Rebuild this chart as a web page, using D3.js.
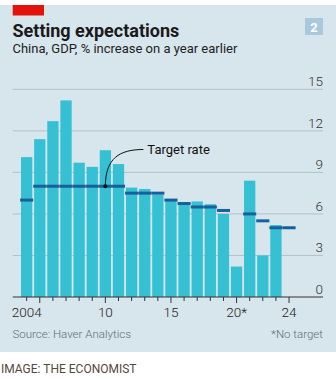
<!DOCTYPE html>
<html><head><meta charset="utf-8">
<script src="https://cdn.jsdelivr.net/npm/d3@7"></script>
<style>html,body{margin:0;padding:0;background:#fff;}svg{display:block;}</style>
</head><body>
<script>
const years = [2004,2005,2006,2007,2008,2009,2010,2011,2012,2013,2014,2015,2016,2017,2018,2019,2020,2021,2022,2023];
const gdp = [10.1,11.4,12.7,14.2,9.7,9.4,10.6,9.6,7.9,7.8,7.4,7.0,6.8,6.9,6.7,6.0,2.2,8.4,3.0,5.2];
const targetYears = [2004,2005,2006,2007,2008,2009,2010,2011,2012,2013,2014,2015,2016,2017,2018,2019,2021,2022,2023,2024];
const targets = [7,8,8,8,8,8,8,8,7.5,7.5,7.5,7,6.75,6.5,6.5,6.25,6,5.5,5,5];
const allYears = d3.range(2004, 2025);
const yTicks = [0,3,6,9,12,15];
const xLabels = {2004:"2004",2010:"10",2015:"15",2020:"20*",2024:"24"};
const tallTicks = [2005,2010,2015,2020,2024];

const W=336,H=380;
const svg=d3.select("body").append("svg").attr("width",W).attr("height",H);
const font="Roboto, 'Open Sans', sans-serif";
svg.append("rect").attr("x",0).attr("y",5).attr("width",W).attr("height",347).attr("fill","#d7e5ed");
svg.append("rect").attr("x",12.7).attr("y",5).attr("width",31.3).attr("height",10.5).attr("fill","#e3120b");

svg.append("text").attr("x",12.5).attr("y",36.5).text("Setting expectations")
  .attr("font-family",font).attr("font-weight",700).attr("font-size",18).attr("fill","#1a1a1a");
svg.append("text").attr("x",12.5).attr("y",53).text("China, GDP, % increase on a year earlier")
  .attr("font-family",font).attr("font-size",13).attr("fill","#222");
svg.append("rect").attr("x",305).attr("y",18).attr("width",18).attr("height",17).attr("fill","#a9c8db");
svg.append("text").attr("x",314).attr("y",31.5).attr("text-anchor","middle").text("2")
  .attr("font-family",font).attr("font-weight",700).attr("font-size",13).attr("fill","#fff");

const x=d3.scaleBand().domain(allYears).range([20.1,295.6]).paddingInner(0.14).paddingOuter(0.07);
const y=d3.scaleLinear().domain([0,15]).range([297,89.3]);
const gap = x.step()-x.bandwidth();

const g=svg.append("g");
g.selectAll("line.grid").data(yTicks.filter(d=>d>0)).join("line")
  .attr("x1",12.7).attr("x2",323).attr("y1",d=>y(d)).attr("y2",d=>y(d))
  .attr("stroke","#b3c1c9").attr("stroke-width",1);
g.selectAll("text.yl").data(yTicks).join("text")
  .attr("x",323).attr("y",d=>y(d)-3).attr("text-anchor","end").text(d=>d)
  .attr("font-family",font).attr("font-weight",300).attr("font-size",13.5).attr("fill","#333");

g.selectAll("rect.bar").data(years.map((yr,i)=>({yr,v:gdp[i]}))).join("rect")
  .attr("x",d=>x(d.yr)).attr("width",x.bandwidth())
  .attr("y",d=>y(d.v)).attr("height",d=>y(0)-y(d.v)).attr("fill","#35c0d3");

g.selectAll("line.tgt").data(targetYears.map((yr,i)=>({yr,v:targets[i]}))).join("line")
  .attr("x1",d=>x(d.yr)-gap/2).attr("x2",d=>x(d.yr)+x.bandwidth()+gap/2)
  .attr("y1",d=>y(d.v)).attr("y2",d=>y(d.v))
  .attr("stroke","#17609a").attr("stroke-width",3);

const axis=d3.axisBottom(x).tickValues(allYears).tickFormat("").tickSize(4);
const ax=svg.append("g").attr("transform",`translate(0,${y(0)})`).call(axis);
ax.select(".domain").remove();
ax.selectAll(".tick line").attr("stroke","#333").attr("y2",d=>tallTicks.includes(d)?6:4);
svg.append("line").attr("x1",12.7).attr("x2",323).attr("y1",y(0)).attr("y2",y(0)).attr("stroke","#333").attr("stroke-width",1);
svg.selectAll("text.xl").data(Object.keys(xLabels).map(Number)).join("text")
  .attr("x",d=>x(d)+x.bandwidth()/2).attr("y",317).attr("text-anchor","middle").text(d=>xLabels[d])
  .attr("font-family",font).attr("font-weight",300).attr("font-size",13.5).attr("fill","#222");

const ax0=x(2010)+x.bandwidth()/2, ay0=y(8);
svg.append("path").attr("d",`M${ax0},${ay0} C${ax0},${ay0-28} ${ax0+14},${149.5} ${ax0+38},149.5`)
  .attr("fill","none").attr("stroke","#111").attr("stroke-width",1);
svg.append("circle").attr("cx",ax0).attr("cy",ay0).attr("r",2).attr("fill","#111");
svg.append("text").attr("x",ax0+42).attr("y",154).text("Target rate")
  .attr("font-family",font).attr("font-size",13).attr("fill","#111");

svg.append("text").attr("x",12.5).attr("y",338).text("Source: Haver Analytics")
  .attr("font-family",font).attr("font-weight",300).attr("font-size",11.5).attr("fill","#5f6d75");
svg.append("text").attr("x",323).attr("y",338).attr("text-anchor","end").text("*No target")
  .attr("font-family",font).attr("font-weight",300).attr("font-size",11.5).attr("fill","#5f6d75");
svg.append("text").attr("x",1).attr("y",373).text("IMAGE: THE ECONOMIST")
  .attr("font-family",font).attr("font-size",12).attr("fill","#54473d");
</script>
</body></html>
